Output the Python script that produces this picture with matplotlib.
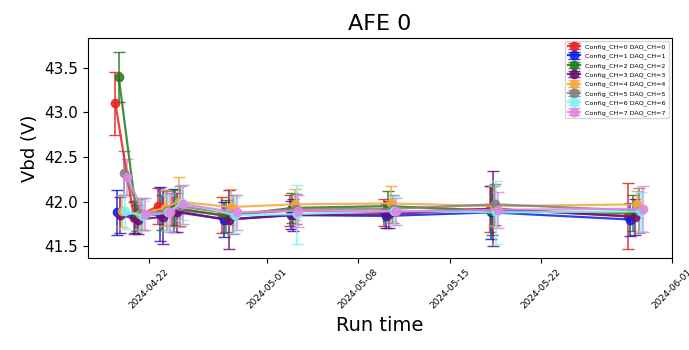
import pandas as pd
import matplotlib
matplotlib.use('Agg')
import matplotlib.pyplot as plt
import matplotlib.dates as mdates

colors = ['#e8231c', '#0a1fe6', '#237a1e', '#6d0f78', '#f8a53a', '#808080', '#7df2f7', '#dd88e0']

times = [
    ['2024-04-19 10:00', '2024-04-20 20:00', '2024-04-22 17:00', '2024-04-23 18:00', '2024-04-27 14:00',
     '2024-05-02 19:00', '2024-05-10 00:00', '2024-05-18 02:00', '2024-05-28 15:00'],
    ['2024-04-19 13:00', '2024-04-20 22:00', '2024-04-22 20:00', '2024-04-23 21:00', '2024-04-27 18:00',
     '2024-05-02 21:00', '2024-05-10 03:00', '2024-05-18 04:00', '2024-05-28 20:00'],
    ['2024-04-19 16:00', '2024-04-21 01:00', '2024-04-22 23:00', '2024-04-24 00:00', '2024-04-27 22:00',
     '2024-05-02 23:00', '2024-05-10 06:00', '2024-05-18 06:00', '2024-05-29 00:00'],
    ['2024-04-19 19:00', '2024-04-21 04:00', '2024-04-23 02:00', '2024-04-24 03:00', '2024-04-28 02:00',
     '2024-05-03 01:00', '2024-05-10 09:00', '2024-05-18 08:00', '2024-05-29 04:00'],
    ['2024-04-19 22:00', '2024-04-21 07:00', '2024-04-23 05:00', '2024-04-24 06:00', '2024-04-28 06:00',
     '2024-05-03 03:00', '2024-05-10 12:00', '2024-05-18 10:00', '2024-05-29 08:00'],
    ['2024-04-20 01:00', '2024-04-21 10:00', '2024-04-23 08:00', '2024-04-24 09:00', '2024-04-28 10:00',
     '2024-05-03 05:00', '2024-05-10 15:00', '2024-05-18 12:00', '2024-05-29 12:00'],
    ['2024-04-20 04:00', '2024-04-21 13:00', '2024-04-23 11:00', '2024-04-24 12:00', '2024-04-28 14:00',
     '2024-05-03 07:00', '2024-05-10 18:00', '2024-05-18 14:00', '2024-05-29 16:00'],
    ['2024-04-20 07:00', '2024-04-21 16:00', '2024-04-23 14:00', '2024-04-24 15:00', '2024-04-28 18:00',
     '2024-05-03 10:00', '2024-05-10 21:00', '2024-05-18 17:00', '2024-05-29 20:00'],
]

vbd = [
    [43.10, 41.82, 41.95, 41.92, 41.85, 41.90, 41.88, 41.92, 41.84],
    [41.88, 41.83, 41.86, 41.90, 41.80, 41.85, 41.84, 41.88, 41.80],
    [43.40, 41.84, 41.88, 41.93, 41.84, 41.93, 41.95, 41.90, 41.87],
    [41.85, 41.80, 41.83, 41.88, 41.80, 41.85, 41.86, 41.92, 41.83],
    [41.90, 41.86, 41.93, 42.00, 41.94, 41.97, 41.98, 41.95, 41.97],
    [42.32, 41.86, 41.90, 41.95, 41.86, 41.92, 41.92, 41.97, 41.90],
    [41.89, 41.84, 41.88, 41.99, 41.85, 41.86, 41.90, 41.88, 41.89],
    [42.28, 41.86, 41.88, 41.97, 41.88, 41.90, 41.89, 41.91, 41.92],
]

vbd_err = [
    [0.35, 0.18, 0.20, 0.18, 0.20, 0.17, 0.15, 0.26, 0.37],
    [0.25, 0.18, 0.30, 0.24, 0.20, 0.16, 0.13, 0.30, 0.18],
    [0.28, 0.17, 0.20, 0.20, 0.18, 0.17, 0.17, 0.27, 0.20],
    [0.20, 0.16, 0.30, 0.22, 0.33, 0.18, 0.15, 0.42, 0.20],
    [0.18, 0.17, 0.20, 0.28, 0.20, 0.17, 0.20, 0.22, 0.15],
    [0.25, 0.18, 0.22, 0.22, 0.22, 0.17, 0.16, 0.23, 0.25],
    [0.20, 0.17, 0.20, 0.20, 0.20, 0.33, 0.16, 0.35, 0.22],
    [0.20, 0.18, 0.22, 0.22, 0.20, 0.18, 0.15, 0.20, 0.26],
]


def main():
    fig = plt.figure(figsize=(6.89, 3.5), dpi=100)
    ax = fig.add_axes([0.128, 0.263, 0.847, 0.628])

    for ch in range(8):
        t = pd.to_datetime(times[ch])
        ax.errorbar(t, vbd[ch], yerr=vbd_err[ch], fmt='-o', color=colors[ch],
                    markersize=6, lw=1.6, capsize=4, elinewidth=1.2, alpha=0.85,
                    label=f'Config_CH={ch} DAQ_CH={ch}')

    ax.set_xlim(pd.Timestamp('2024-04-17 08:00'), pd.Timestamp('2024-06-01'))
    ax.set_ylim(41.37, 43.83)
    ax.set_yticks([41.5, 42.0, 42.5, 43.0, 43.5])
    ax.xaxis.set_major_locator(mdates.DayLocator(bymonthday=[1, 8, 15, 22]))
    ax.xaxis.set_major_formatter(mdates.DateFormatter('%Y-%m-%d'))
    plt.setp(ax.get_xticklabels(), rotation=45, fontsize=6.5)
    ax.tick_params(axis='y', labelsize=11)

    ax.set_title('AFE 0', fontsize=16)
    ax.set_ylabel('Vbd (V)', fontsize=13)
    ax.set_xlabel('Run time', fontsize=14)
    ax.legend(loc='upper right', fontsize=4.6, markerscale=1.0)

    fig.savefig('out.png', dpi=100)
    plt.close(fig)


if __name__ == '__main__':
    main()
